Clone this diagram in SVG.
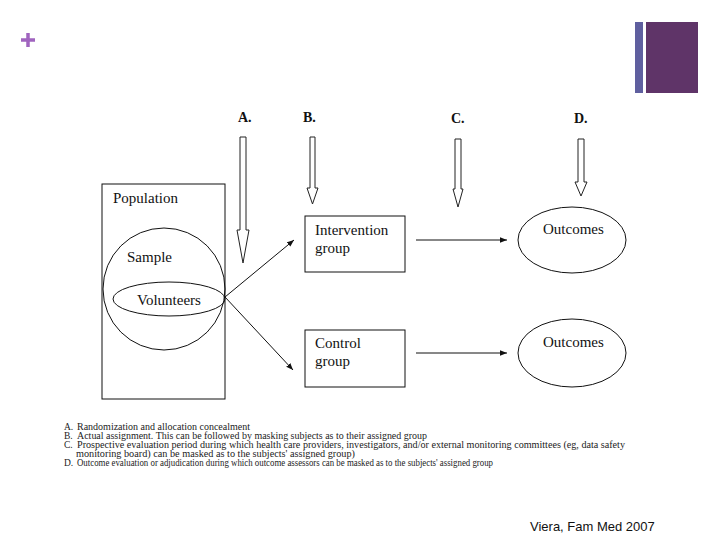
<svg xmlns="http://www.w3.org/2000/svg" width="720" height="540" viewBox="0 0 720 540">
<style>
.ln{fill:none;stroke:#111;stroke-width:1}
.ha{fill:#fff;stroke:#222;stroke-width:1}
.t{font-family:"Liberation Serif","Times New Roman",serif;font-size:15px;fill:#111}
.lb{font-family:"Liberation Serif","Times New Roman",serif;font-size:14px;font-weight:bold;fill:#111}
.fn{font-family:"Liberation Serif","Times New Roman",serif;font-size:9.5px;fill:#222}
.cr{font-family:"Liberation Sans",Arial,sans-serif;font-size:13px;fill:#111}
</style>
<defs>
<marker id="ah" viewBox="0 0 10 10" refX="10" refY="5" markerWidth="7" markerHeight="7" orient="auto" markerUnits="userSpaceOnUse">
<path d="M0,1 L10,5 L0,9 Z" fill="#111"/>
</marker>
</defs>
<rect width="720" height="540" fill="#fff"/>
<g id="deco">
<path d="M21,40 H35 M28,33 V47" stroke="#a064bf" stroke-width="3.5" fill="none"/>
<rect x="635" y="22" width="8" height="71" fill="#5f5f9f"/>
<rect x="646" y="22" width="52" height="71" fill="#5f3468"/>
</g>
<g id="labels">
<text class="lb" x="238" y="122">A.</text>
<text class="lb" x="303" y="122">B.</text>
<text class="lb" x="451" y="123">C.</text>
<text class="lb" x="574" y="123">D.</text>
</g>
<g id="markers">
<polygon class="ha" points="240,137 246,137 246,230 249,230 243,263 237,230 240,230"/>
<polygon class="ha" points="310,137 315,137 315,188 318,188 312.5,204 307,188 310,188"/>
<polygon class="ha" points="455,139 461,139 461,189 463,189 458,207 453,189 455,189"/>
<polygon class="ha" points="578,139 584,139 584,182 587,182 581,196 575,182 578,182"/>
</g>
<g id="population">
<rect class="ln" x="102" y="184" width="123" height="215"/>
<text class="t" x="113" y="203">Population</text>
</g>
<g id="sample">
<circle class="ln" cx="164" cy="289" r="61"/>
<text class="t" x="127" y="262">Sample</text>
</g>
<g id="volunteers">
<ellipse class="ln" cx="169" cy="299" rx="56" ry="17" fill="#fff"/>
<text class="t" x="137" y="305">Volunteers</text>
</g>
<g id="intervention">
<rect class="ln" x="305" y="216" width="100" height="56"/>
<text class="t" x="315" y="235">Intervention</text>
<text class="t" x="315" y="253">group</text>
</g>
<g id="control">
<rect class="ln" x="305" y="330" width="100" height="57"/>
<text class="t" x="315" y="348">Control</text>
<text class="t" x="315" y="366">group</text>
</g>
<g id="outcomes1">
<ellipse class="ln" cx="572" cy="240" rx="54" ry="33"/>
<text class="t" x="543" y="234">Outcomes</text>
</g>
<g id="outcomes2">
<ellipse class="ln" cx="572" cy="353" rx="54" ry="34"/>
<text class="t" x="543" y="347">Outcomes</text>
</g>
<g id="connectors">
<line class="ln" x1="225" y1="297" x2="294" y2="240" marker-end="url(#ah)"/>
<line class="ln" x1="225" y1="297" x2="293" y2="370" marker-end="url(#ah)"/>
<line class="ln" x1="416" y1="240" x2="507" y2="240" marker-end="url(#ah)"/>
<line class="ln" x1="416" y1="353" x2="507" y2="353" marker-end="url(#ah)"/>
</g>
<g id="footnote">
<text class="fn" x="64" y="430">A.</text>
<text class="fn" x="77" y="430" textLength="173" lengthAdjust="spacingAndGlyphs">Randomization and allocation concealment</text>
<text class="fn" x="64" y="439">B.</text>
<text class="fn" x="77" y="439" textLength="350" lengthAdjust="spacingAndGlyphs">Actual assignment. This can be followed by masking subjects as to their assigned group</text>
<text class="fn" x="64" y="448">C.</text>
<text class="fn" x="77" y="448" textLength="548" lengthAdjust="spacingAndGlyphs">Prospective evaluation period during which health care providers, investigators, and/or external monitoring committees (eg, data safety</text>
<text class="fn" x="76" y="457" textLength="279" lengthAdjust="spacingAndGlyphs">monitoring board) can be masked as to the subjects' assigned group)</text>
<text class="fn" x="64" y="466">D.</text>
<text class="fn" x="77" y="466" textLength="416" lengthAdjust="spacingAndGlyphs">Outcome evaluation or adjudication during which outcome assessors can be masked as to the subjects' assigned group</text>
</g>
<g id="credit">
<text class="cr" x="530" y="531">Viera, Fam Med 2007</text>
</g>
</svg>
